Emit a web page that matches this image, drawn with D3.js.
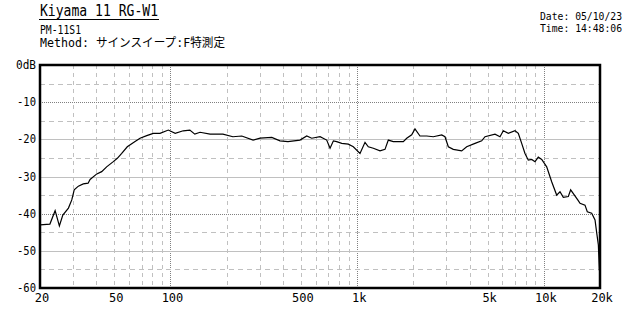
<!DOCTYPE html>
<html>
<head>
<meta charset="utf-8">
<script src="https://cdn.jsdelivr.net/npm/d3@7"></script>
<style>
  body { margin: 0; background: #fff; }
  svg { display: block; }
  text { font-family: "DejaVu Sans Mono", "Noto Sans CJK JP", monospace; fill: #000; }
</style>
</head>
<body>
<div class="canva"></div>
<script>
// measured response (Hz, dB)
freqs = [20, 22.6, 24.1, 25.4, 26.5, 28.4, 29.6, 30.5, 32.1, 34.1, 36.2, 37.1, 40.3, 42.8, 45.5, 49.4,
  51.9, 54.8, 58.7, 64.6, 68.7, 74.6, 80.9, 87.9, 97.4, 106, 117, 127, 135, 144, 163, 184, 191,
  216, 241, 277, 302, 349, 386, 426, 494, 537, 571, 633, 687, 716, 746, 777, 827, 897, 954,
  1036, 1102, 1148, 1221, 1326, 1410, 1469, 1562, 1767, 1843, 1960, 2041, 2171, 2359, 2559,
  2839, 2955, 3079, 3274, 3631, 3862, 4280, 4648, 4842, 5476, 5826, 6068, 6454, 7009, 7301,
  7612, 7929, 8259, 8612, 8970, 9344, 9747, 10362, 11020, 11720, 12210, 12720, 13530, 13930,
  15300, 15630, 16620, 17100, 18050, 18810, 19220, 19600, 19840, 20000]
levels = [-43.0, -42.8, -39.2, -43.3, -40.4, -38.5, -36.3, -33.6, -32.6, -32.0, -31.8, -30.8, -29.3, -28.7, -27.4, -26.0,
  -25.1, -23.8, -22.0, -20.6, -19.7, -19.0, -18.4, -18.4, -17.5, -18.4, -17.7, -17.5, -18.6, -18.1, -18.6, -18.6, -18.6,
  -19.3, -19.1, -20.2, -19.7, -19.5, -20.4, -20.6, -20.2, -19.1, -19.7, -19.3, -20.2, -22.4, -20.4, -20.6, -21.1, -21.3, -22.0,
  -23.8, -20.8, -22.0, -22.4, -23.1, -22.7, -20.2, -20.6, -20.6, -19.7, -18.8, -17.2, -19.1, -19.1, -19.3,
  -18.8, -19.3, -22.0, -22.7, -23.1, -22.0, -21.1, -20.4, -19.3, -18.6, -19.3, -17.7, -18.4, -17.7, -18.4,
  -21.1, -23.8, -25.6, -25.4, -26.0, -24.8, -25.4, -27.4, -31.4, -35.0, -34.1, -35.6, -35.4, -33.6,
  -36.5, -37.2, -37.7, -39.5, -39.9, -41.7, -45.3, -48.4, -55.2, -55.5]

x_ticks = [20, 50, 100, 500, 1000, 5000, 10000, 20000]
x_tick_labels = ["20", "50", "100", "500", "1k", "5k", "10k", "20k"]
y_ticks = [0, -10, -20, -30, -40, -50, -60]
y_tick_labels = ["0dB", "-10", "-20", "-30", "-40", "-50", "-60"]

title = "Kiyama 11 RG-W1"
model = "PM-11S1"
method = "Method: サインスイープ:F特測定"
date_txt = "Date: 05/10/23"
time_txt = "Time: 14:48:06"

// plot box (window.top is read-only, so no bare "top")
const pl = 40, pr = 600, pt = 65, pb = 288

function render() {
  const svg = d3.select('.canva').append('svg')
      .attr('width', 640)
      .attr('height', 320)

  const x = d3.scaleLog().domain([20, 20000]).range([pl, pr])
  const y = d3.scaleLinear().domain([-60, 0]).range([pb, pt])

  // vertical grid
  let minor = []
  for (const dec of [10, 100, 1000]) {
    for (let m = 2; m <= 9; m++) {
      const f = dec * m
      if (f > 20 && f < 20000) minor.push(f)
    }
  }
  const grid = svg.append('g').attr('shape-rendering', 'crispEdges')
  grid.selectAll('.vminor').data(minor).enter().append('line')
      .attr('x1', d => Math.round(x(d)) + 0.5).attr('x2', d => Math.round(x(d)) + 0.5)
      .attr('y1', pt).attr('y2', pb)
      .attr('stroke', '#c0c0c0').attr('stroke-dasharray', '4,4')
  grid.selectAll('.vmajor').data([100, 1000, 10000]).enter().append('line')
      .attr('x1', d => Math.round(x(d)) + 0.5).attr('x2', d => Math.round(x(d)) + 0.5)
      .attr('y1', pt).attr('y2', pb)
      .attr('stroke', '#808080').attr('stroke-dasharray', '1,1')

  // horizontal grid
  const halves = d3.range(-55, 0, 10)
  grid.selectAll('.hhalf').data(halves).enter().append('line')
      .attr('x1', pl).attr('x2', pr)
      .attr('y1', d => Math.round(y(d)) + 0.5).attr('y2', d => Math.round(y(d)) + 0.5)
      .attr('stroke', '#c0c0c0').attr('stroke-dasharray', '5,4')
  grid.selectAll('.hsolid').data([-20, -30, -50]).enter().append('line')
      .attr('x1', pl).attr('x2', pr)
      .attr('y1', d => Math.round(y(d)) + 0.5).attr('y2', d => Math.round(y(d)) + 0.5)
      .attr('stroke', '#c0c0c0')
  grid.selectAll('.hdot').data([-10, -40]).enter().append('line')
      .attr('x1', pl).attr('x2', pr)
      .attr('y1', d => Math.round(y(d)) + 0.5).attr('y2', d => Math.round(y(d)) + 0.5)
      .attr('stroke', '#808080').attr('stroke-dasharray', '1,1')

  // response curve
  const pts = freqs.map((f, i) => [f, levels[i]])
  svg.append('path')
      .datum(pts)
      .attr('fill', 'none')
      .attr('stroke', '#000')
      .attr('stroke-width', 1.2)
      .attr('d', d3.line().x(d => x(d[0])).y(d => y(d[1])))

  // frame
  svg.append('rect')
      .attr('x', pl).attr('y', pt)
      .attr('width', pr - pl).attr('height', pb - pt)
      .attr('fill', 'none').attr('stroke', '#000').attr('stroke-width', 2.5)

  // axis labels
  svg.selectAll('.xl').data(x_ticks).enter().append('text')
      .attr('x', d => x(d) + 2)
      .attr('y', 302)
      .attr('text-anchor', 'middle')
      .attr('font-size', 12)
      .text((d, i) => x_tick_labels[i])
  svg.selectAll('.yl').data(y_ticks).enter().append('text')
      .attr('x', 36)
      .attr('y', d => y(d) + 4)
      .attr('text-anchor', 'end')
      .attr('font-size', 12)
      .attr('textLength', d => d === 0 ? 20 : 19).attr('lengthAdjust', 'spacingAndGlyphs')
      .text((d, i) => y_tick_labels[i])

  // header
  svg.append('text').attr('x', 40).attr('y', 16).attr('font-size', 15)
      .attr('textLength', 118).attr('lengthAdjust', 'spacingAndGlyphs').text(title)
  svg.append('line').attr('x1', 39).attr('x2', 159).attr('y1', 19.5).attr('y2', 19.5)
      .attr('stroke', '#000').attr('stroke-width', 1)
  svg.append('text').attr('x', 40).attr('y', 34).attr('font-size', 12)
      .attr('textLength', 41).attr('lengthAdjust', 'spacingAndGlyphs').text(model)
  svg.append('text').attr('x', 40).attr('y', 47).attr('font-size', 12)
      .attr('textLength', 185).attr('lengthAdjust', 'spacingAndGlyphs').text(method)
  svg.append('text').attr('x', 540).attr('y', 20).attr('font-size', 11)
      .attr('textLength', 82).attr('lengthAdjust', 'spacingAndGlyphs').text(date_txt)
  svg.append('text').attr('x', 540).attr('y', 32).attr('font-size', 11)
      .attr('textLength', 82).attr('lengthAdjust', 'spacingAndGlyphs').text(time_txt)
}
render()
</script>
</body>
</html>
